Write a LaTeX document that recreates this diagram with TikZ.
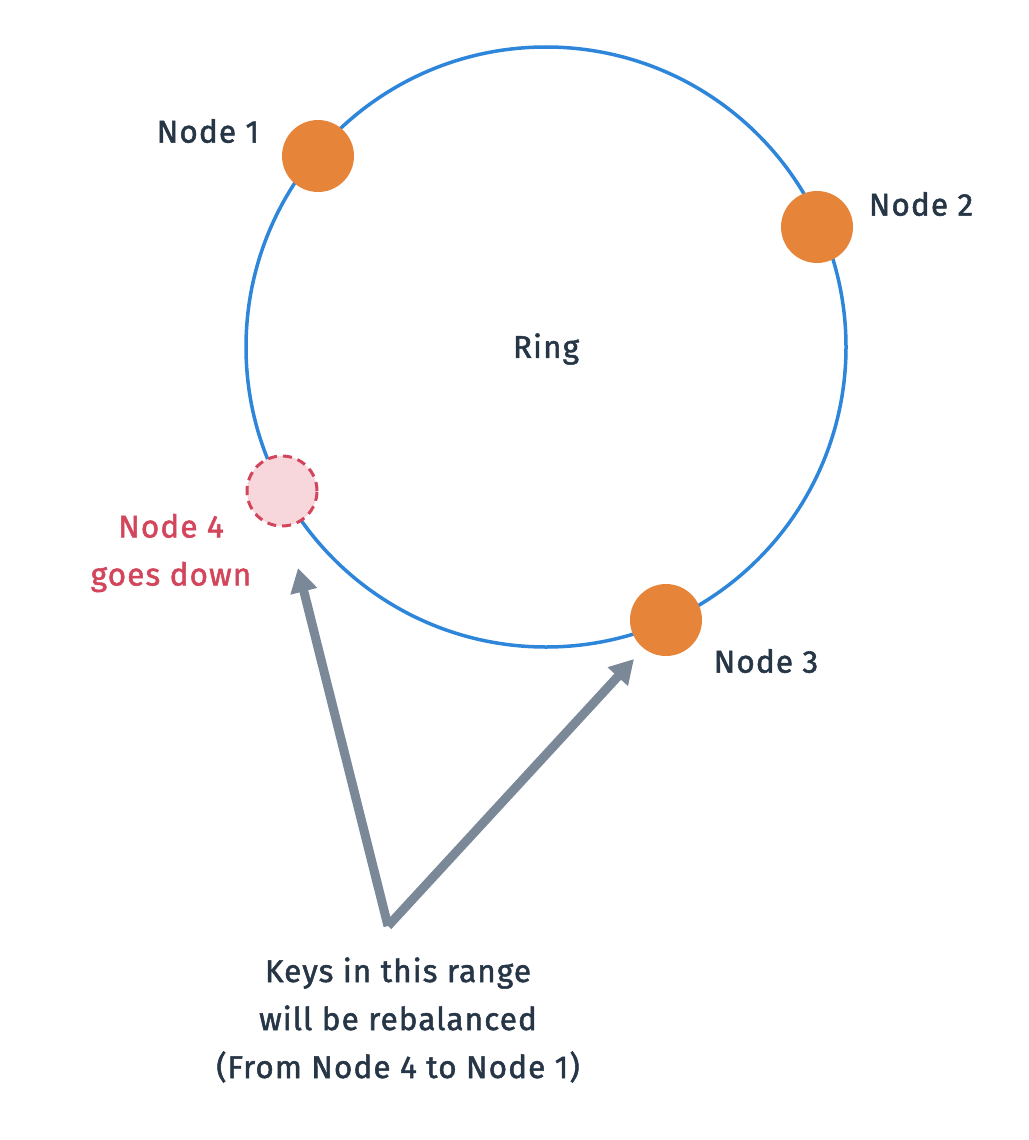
\documentclass[tikz,border=0pt]{standalone}
\usepackage{fontspec}
\setmainfont{Fira Sans}[FakeBold=1.6, LetterSpace=3.5]
\usetikzlibrary{arrows.meta}
\definecolor{ringblue}{HTML}{2E86DA}
\definecolor{nodeorange}{HTML}{E6843A}
\definecolor{txtdark}{HTML}{263646}
\definecolor{downred}{HTML}{D2455A}
\definecolor{downpink}{HTML}{F8D7DC}
\definecolor{arrowgray}{HTML}{7A8898}
\tikzset{
  x=1pt, y=-1pt,
  member/.style={circle, fill=nodeorange, minimum size=72pt, inner sep=0pt},
  downnode/.style={circle, fill=downpink, draw=downred, dashed, dash pattern=on 9pt off 6pt, line width=3pt, minimum size=70pt, inner sep=0pt},
  lbl/.style={text=txtdark, font=\fontsize{31.5}{34}\selectfont, inner sep=0pt},
  redlbl/.style={text=downred, font=\fontsize{31.5}{48}\selectfont, inner sep=0pt, align=center},
  pointer/.style={draw=arrowgray, line width=9pt, line join=round, -{Triangle[length=24pt,width=26pt]}},
}
\begin{document}
\begin{tikzpicture}
\useasboundingbox (0,0) rectangle (1028,1140);
\draw[ringblue, line width=3.5pt] (546,347) circle[radius=300pt];
\node[lbl] (ring) at (546,349) {Ring};
\node[member] (n1) at (318,156) {};
\node[member] (n2) at (817,227) {};
\node[member] (n3) at (666,620) {};
\node[downnode] (n4) at (282,491) {};
\node[lbl] (l1) at (208,131) {Node 1};
\node[lbl] (l2) at (921,204) {Node 2};
\node[lbl] (l3) at (766,661) {Node 3};
\node[redlbl] (l4) at (171,553) {Node 4\\goes down};
\node[lbl, align=center, font=\fontsize{31.5}{48}\selectfont] (keys) at (398,1020) {Keys in this range\\will be rebalanced\\(From Node 4 to Node 1)};
\coordinate (apex) at (388,926);
\coordinate (t4) at (298,568);
\coordinate (t3) at (634,659);
\draw[pointer] (apex) -- (t4);
\draw[pointer] (apex) -- (t3);
\end{tikzpicture}
\end{document}
